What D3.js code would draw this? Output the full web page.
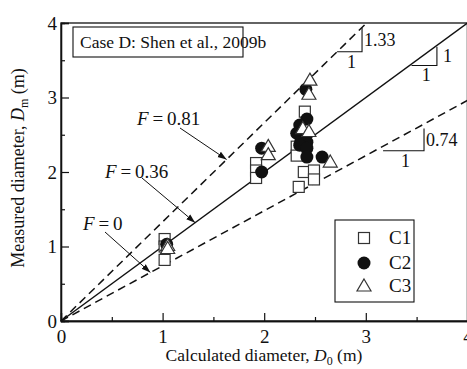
<!DOCTYPE html>
<html>
<head>
<meta charset="utf-8">
<script src="https://cdn.jsdelivr.net/npm/d3@7"></script>
<style>
  body { margin: 0; background: #fff; }
  svg { display: block; }
</style>
</head>
<body>
<svg id="chart" width="467" height="369"></svg>
<script>
// Axis ticks
const xTicks = [0, 1, 2, 3, 4];
const yTicks = [0, 1, 2, 3, 4];
const minorTicks = [0.5, 1.5, 2.5, 3.5];

// Measured vs calculated crater diameter (m), three test groups
const c1 = [[1.02, 1.10], [1.02, 1.00], [1.02, 0.82], [1.92, 2.12], [1.92, 2.02], [1.92, 1.92],
            [2.32, 2.34], [2.32, 2.22], [2.40, 2.81], [2.39, 2.00], [2.49, 2.02], [2.49, 1.90], [2.34, 1.80]];
const c2 = [[1.04, 1.03], [1.975, 2.32], [1.975, 2.00], [2.41, 3.11], [2.42, 2.71], [2.35, 2.63],
            [2.32, 2.52], [2.36, 2.40], [2.42, 2.40], [2.35, 2.36], [2.42, 2.32], [2.42, 2.20], [2.57, 2.20]];
const c3 = [[1.05, 1.00], [1.05, 0.96], [2.04, 2.33], [2.04, 2.22], [2.45, 3.22], [2.44, 3.03],
            [2.38, 2.57], [2.44, 2.53], [2.65, 2.12]];

// Reference lines D_m = k * D_0 for F = 0.81, 0.36, 0
const lineLabels = ["0.81", "0.36", "0"];
const lineSlopes = [1.33, 1, 0.74];
const slopeTexts = ["1.33", "1", "0.74"];

const FONT = "'Liberation Serif', 'Times New Roman', 'DejaVu Serif', serif";
const svg = d3.select("#chart");
const x = d3.scaleLinear().domain([0, 4]).range([61, 467.4]);
const y = d3.scaleLinear().domain([0, 4]).range([321, 23]);

// Frame
svg.append("rect")
  .attr("x", x(0)).attr("y", y(4))
  .attr("width", x(4) - x(0)).attr("height", y(0) - y(4))
  .attr("fill", "none").attr("stroke", "#111").attr("stroke-width", 1.3);

// Axes with inward ticks
const fontTick = 19;
svg.append("g").attr("transform", `translate(0,${y(0)})`)
  .call(d3.axisBottom(x).tickValues(xTicks).tickSize(-8).tickPadding(9).tickFormat(d3.format("d")));
svg.append("g").attr("transform", `translate(0,${y(0)})`)
  .call(d3.axisBottom(x).tickValues(minorTicks).tickSize(-4).tickFormat(""));
svg.append("g").attr("transform", `translate(${x(0)},0)`)
  .call(d3.axisLeft(y).tickValues(yTicks).tickSize(-8).tickPadding(4).tickFormat(d3.format("d")));
svg.append("g").attr("transform", `translate(${x(0)},0)`)
  .call(d3.axisLeft(y).tickValues(minorTicks).tickSize(-4).tickFormat(""));
svg.selectAll(".domain").attr("stroke", "#111").attr("stroke-width", 1.3);
svg.selectAll(".tick line").attr("stroke", "#111").attr("stroke-width", 1.2);
svg.selectAll(".tick text").attr("font-size", fontTick).attr("fill", "#111");

// Reference lines
const lineStyles = ["8,5", null, "8,5"];
lineSlopes.forEach((k, i) => {
  const xEnd = Math.min(4, 4 / k);
  svg.append("line")
    .attr("x1", x(0)).attr("y1", y(0))
    .attr("x2", x(xEnd)).attr("y2", y(k * xEnd))
    .attr("stroke", "#111").attr("stroke-width", 1.5)
    .attr("stroke-dasharray", lineStyles[i]);
});

// Slope triangles: [x start, x end, y offset of the triangle base, rise-label gap]
const triSpecs = [[2.717, 2.963, 0, 2], [3.45, 3.70, -0.02, 6], [3.17, 3.573, -0.06, 2]];
triSpecs.forEach((t, i) => {
  const k = lineSlopes[i];
  const xa = t[0], xb = t[1];
  const yb = k * xa + t[2];
  const yt = k * xb + t[2];
  svg.append("path")
    .attr("d", `M${x(xa)},${y(yb)}H${x(xb)}V${y(yt)}`)
    .attr("fill", "none").attr("stroke", "#111").attr("stroke-width", 1.1);
  svg.append("text")
    .attr("x", x(xb) + t[3]).attr("y", (y(yb) + y(yt)) / 2 + 6)
    .attr("font-size", 18).text(slopeTexts[i]);
  svg.append("text")
    .attr("x", (x(xa) + x(xb)) / 2 + 2).attr("y", y(yb) + 16)
    .attr("text-anchor", "middle").attr("font-size", 18).text("1");
});

// Arrow marker
svg.append("defs").append("marker")
  .attr("id", "arrow").attr("viewBox", "0 0 10 10")
  .attr("refX", 10).attr("refY", 5)
  .attr("markerWidth", 9).attr("markerHeight", 9)
  .attr("markerUnits", "userSpaceOnUse")
  .attr("orient", "auto")
  .append("path").attr("d", "M0,1.5L10,5L0,8.5Z").attr("fill", "#111");

// F labels with arrows pointing to their lines
const fTextPos = [[137, 125], [105, 178], [83, 230]];
const fArrowStart = [[180, 128], [142, 178], [105, 232]];
const fArrowEndX = [1.63, 1.32, 0.88];
lineLabels.forEach((lab, i) => {
  const t = svg.append("text").attr("x", fTextPos[i][0]).attr("y", fTextPos[i][1]).attr("font-size", 19);
  t.append("tspan").attr("font-style", "italic").text("F");
  t.append("tspan").text("\u2009=\u2009" + lab);
  svg.append("line")
    .attr("x1", fArrowStart[i][0]).attr("y1", fArrowStart[i][1])
    .attr("x2", x(fArrowEndX[i])).attr("y2", y(lineSlopes[i] * fArrowEndX[i]))
    .attr("stroke", "#111").attr("stroke-width", 1)
    .attr("marker-end", "url(#arrow)");
});

// Data symbols
const sq = 11, rc = 6.5;
const triPath = (cx, cy) => {
  const w = 14, h = 12;
  return `M${cx},${cy - h * 2 / 3}L${cx + w / 2},${cy + h / 3}L${cx - w / 2},${cy + h / 3}Z`;
};
svg.append("g").selectAll("rect").data(c1).join("rect")
  .attr("x", d => x(d[0]) - sq / 2).attr("y", d => y(d[1]) - sq / 2)
  .attr("width", sq).attr("height", sq)
  .attr("fill", "#fff").attr("stroke", "#333").attr("stroke-width", 1.2);
svg.append("g").selectAll("circle").data(c2).join("circle")
  .attr("cx", d => x(d[0])).attr("cy", d => y(d[1])).attr("r", rc)
  .attr("fill", "#111");
svg.append("g").selectAll("path").data(c3).join("path")
  .attr("d", d => triPath(x(d[0]), y(d[1])))
  .attr("fill", "#fff").attr("stroke", "#333").attr("stroke-width", 1.2);

// Case title box
svg.append("rect").attr("x", 73).attr("y", 27).attr("width", 170).attr("height", 30)
  .attr("fill", "#fff").attr("stroke", "#111").attr("stroke-width", 1.1);
svg.append("text").attr("x", 80).attr("y", 48).attr("font-size", 17.5)
  .text("Case D: Shen et al., 2009b");

// Legend
const legendNames = ["C1", "C2", "C3"];
const legendY = [238, 263, 286];
svg.append("rect").attr("x", 335).attr("y", 220).attr("width", 79).attr("height", 82)
  .attr("fill", "#fff").attr("stroke", "#111").attr("stroke-width", 1.1);
svg.append("rect").attr("x", 364 - sq / 2).attr("y", legendY[0] - sq / 2)
  .attr("width", sq).attr("height", sq).attr("fill", "#fff").attr("stroke", "#333").attr("stroke-width", 1.2);
svg.append("circle").attr("cx", 364).attr("cy", legendY[1]).attr("r", rc).attr("fill", "#111");
svg.append("path").attr("d", triPath(364, legendY[2] + 1))
  .attr("fill", "#fff").attr("stroke", "#333").attr("stroke-width", 1.2);
legendNames.forEach((n, i) => {
  svg.append("text").attr("x", 389).attr("y", legendY[i] + 6).attr("font-size", 19).text(n);
});

// Axis titles
const xt = svg.append("text").attr("x", 264).attr("y", 361).attr("text-anchor", "middle").attr("font-size", 17.5);
xt.append("tspan").text("Calculated diameter, ");
xt.append("tspan").attr("font-style", "italic").text("D");
xt.append("tspan").attr("font-size", 12).attr("dy", 4).text("0");
xt.append("tspan").attr("dy", -4).text(" (m)");

const yt = svg.append("text").attr("transform", "translate(24,168) rotate(-90)")
  .attr("text-anchor", "middle").attr("font-size", 18);
yt.append("tspan").text("Measured diameter, ");
yt.append("tspan").attr("font-style", "italic").text("D");
yt.append("tspan").attr("font-size", 12).attr("dy", 4).text("m");
yt.append("tspan").attr("dy", -4).text(" (m)");

// Serif typeface for every label
svg.selectAll("text").style("font-family", FONT).style("fill", "#111");
</script>
</body>
</html>
